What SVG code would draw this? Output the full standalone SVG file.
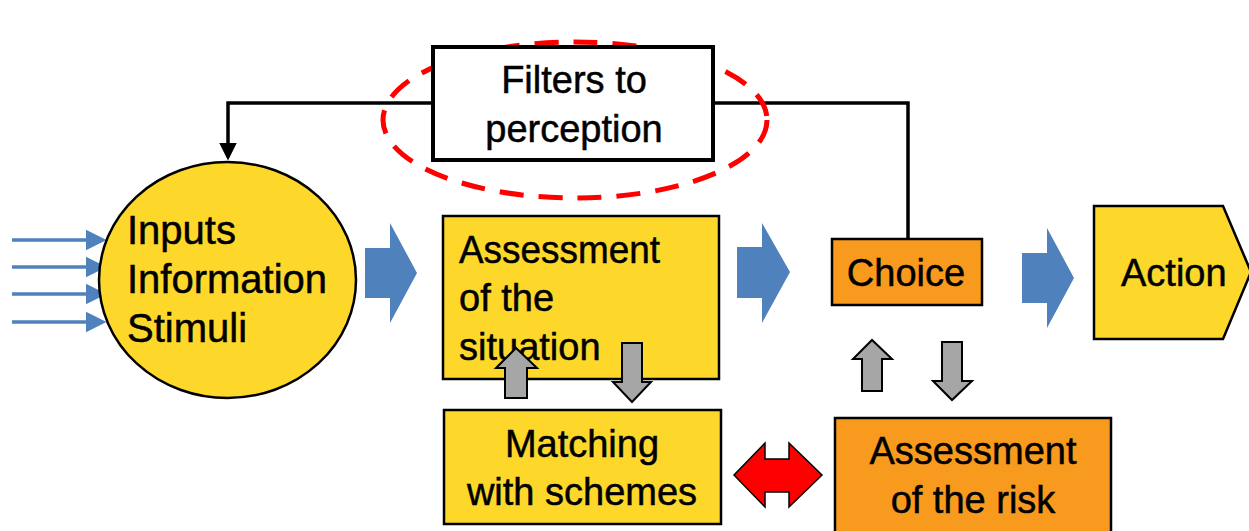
<svg xmlns="http://www.w3.org/2000/svg" width="1249" height="531" viewBox="0 0 1249 531">
<defs>
<style>
.t{font-family:"Liberation Sans",Arial,sans-serif;font-size:38px;fill:#000;stroke:#000;stroke-width:0.5px;}
.m{text-anchor:middle;}
.yel{fill:#FDD82B;stroke:#000;stroke-width:2.5;}
.org{fill:#F89A1E;stroke:#000;stroke-width:2.5;}
.blk{fill:#4F81BD;stroke:none;}
.gry{fill:#A6A6A6;stroke:#000;stroke-width:2;stroke-linejoin:miter;}
.inp{stroke:#4F81BD;stroke-width:3.5;fill:none;}
.fb{stroke:#000;stroke-width:3.5;fill:none;}
</style>
<marker id="ah" markerWidth="6" markerHeight="6" refX="5" refY="3" orient="auto" markerUnits="strokeWidth"><path d="M0,0 L6,3 L0,6 z" fill="#4F81BD"/></marker>
<marker id="bh" markerWidth="5" markerHeight="5" refX="4" refY="2.5" orient="auto" markerUnits="strokeWidth"><path d="M0,0 L5,2.5 L0,5 z" fill="#000"/></marker>
</defs>

<g id="connectors">
<line class="inp" x1="12" y1="240" x2="103" y2="240" marker-end="url(#ah)"/>
<line class="inp" x1="12" y1="267" x2="103" y2="267" marker-end="url(#ah)"/>
<line class="inp" x1="12" y1="294" x2="103" y2="294" marker-end="url(#ah)"/>
<line class="inp" x1="12" y1="322" x2="103" y2="322" marker-end="url(#ah)"/>
<polyline class="fb" points="433,103 228,103 228,157" marker-end="url(#bh)"/>
<polyline class="fb" points="713,103 908,103 908,240"/>
<path class="blk" d="M365,248 L390,248 L390,223 L417,273 L390,323 L390,298 L365,298 Z"/>
<path class="blk" d="M737,247 L762,247 L762,223 L790,272 L762,323 L762,298 L737,298 Z"/>
<path class="blk" d="M1022,253 L1047,253 L1047,228 L1074,278 L1047,328 L1047,303 L1022,303 Z"/>
<path class="gry" d="M862,391 L862,359 L853,359 L872,340 L892,359 L882,359 L882,391 Z"/>
<path class="gry" d="M942,342 L962,342 L962,381 L972,381 L952,400 L933,381 L942,381 Z"/>
<path d="M734,475 L765,443 L765,459 L789,459 L789,443 L822,475 L789,507 L789,492 L765,492 L765,507 Z" fill="#FF0000" stroke="#000" stroke-width="1.5"/>
</g>

<g id="inputs">
<ellipse class="yel" cx="227.5" cy="280" rx="128.5" ry="118"/>
<text class="t" x="127" y="244" style="font-size:40px">Inputs</text>
<text class="t" x="127" y="293" style="font-size:40px">Information</text>
<text class="t" x="127" y="342" style="font-size:40px">Stimuli</text>
</g>

<g id="filters">
<ellipse cx="575" cy="120" rx="192" ry="78" fill="none" stroke="#FF0000" stroke-width="5" stroke-dasharray="24,15"/>
<rect x="433" y="47" width="280" height="113" fill="#fff" stroke="#000" stroke-width="4"/>
<text class="t m" x="574" y="93">Filters to</text>
<text class="t m" x="574" y="142">perception</text>
</g>

<g id="situation">
<rect class="yel" x="443" y="216" width="276" height="163"/>
<text class="t" x="459" y="263" textLength="201" lengthAdjust="spacingAndGlyphs">Assessment</text>
<text class="t" x="459" y="311">of the</text>
<text class="t" x="459" y="360">situation</text>
</g>

<g id="matching">
<rect class="yel" x="444" y="410" width="277" height="114"/>
<text class="t m" x="582" y="457">Matching</text>
<text class="t m" x="582" y="505">with schemes</text>
</g>

<g id="choice">
<rect class="org" x="832" y="239" width="150" height="66"/>
<text class="t m" x="906" y="286">Choice</text>
</g>

<g id="action">
<path class="yel" d="M1094,206 L1223,206 L1251,272 L1223,339 L1094,339 Z"/>
<text class="t" x="1121" y="286">Action</text>
</g>

<g id="risk">
<rect class="org" x="835" y="418" width="276" height="125"/>
<text class="t m" x="973" y="464">Assessment</text>
<text class="t m" x="973" y="513">of the risk</text>
</g>

<g id="situation-matching-arrows">
<path class="gry" d="M505,398 L505,368 L496,368 L516,348 L537,368 L527,368 L527,398 Z"/>
<path class="gry" d="M622,343 L642,343 L642,382 L651,382 L632,402 L613,382 L622,382 Z"/>
</g>
</svg>
